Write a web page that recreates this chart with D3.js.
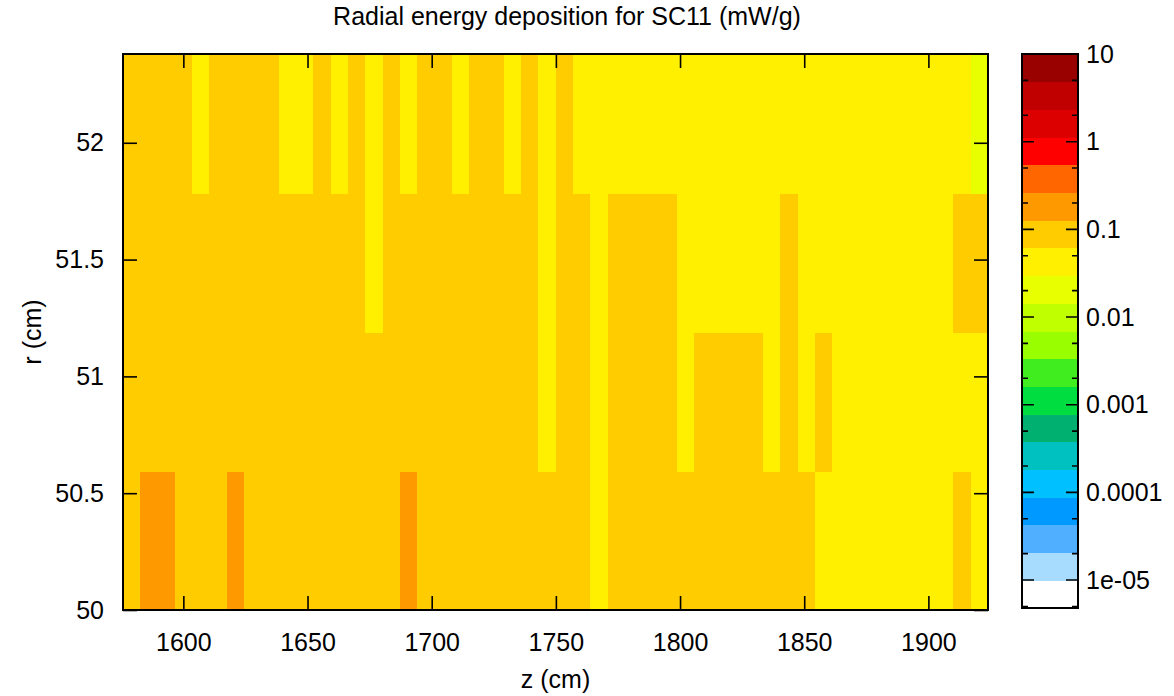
<!DOCTYPE html>
<html>
<head>
<meta charset="utf-8">
<script src="https://cdn.jsdelivr.net/npm/d3@7"></script>
<style>
  body { margin: 0; background: #fff; }
  svg { display: block; font-family: "Liberation Sans", Arial, sans-serif; }
</style>
</head>
<body>
<div id="container"></div>
<script>
// ==================== data ==================== //

// z bin edges (cm), 50 bins
const zEdges = [
  1575.7, 1582.7, 1589.6, 1596.6, 1603.6, 1610.5, 1617.5, 1624.5, 1631.4, 1638.4,
  1645.4, 1652.3, 1659.3, 1666.3, 1673.2, 1680.2, 1687.2, 1694.1, 1701.1, 1708.1,
  1715.0, 1722.0, 1729.0, 1735.9, 1742.9, 1749.9, 1756.8, 1763.8, 1770.8, 1777.7,
  1784.7, 1791.7, 1798.6, 1805.6, 1812.5, 1819.5, 1826.5, 1833.4, 1840.4, 1847.4,
  1854.3, 1861.3, 1868.3, 1875.2, 1882.2, 1889.2, 1896.1, 1903.1, 1910.1, 1917.0,
  1924.0
];

// r bin edges (cm), 4 bins
const rEdges = [50, 50.595, 51.19, 51.785, 52.38];

// energy deposition (mW/g), one array per r bin, bottom to top
const edepR0 = [
  0.105, 0.165, 0.160, 0.104, 0.102, 0.103, 0.155, 0.101, 0.100, 0.099,
  0.098, 0.097, 0.098, 0.096, 0.095, 0.094, 0.152, 0.095, 0.094, 0.093,
  0.092, 0.091, 0.090, 0.089, 0.088, 0.087, 0.086, 0.052, 0.090, 0.089,
  0.088, 0.087, 0.086, 0.085, 0.084, 0.083, 0.082, 0.081, 0.080, 0.079,
  0.054, 0.053, 0.052, 0.051, 0.050, 0.049, 0.050, 0.052, 0.074, 0.051
];
const edepR1 = [
  0.102, 0.104, 0.103, 0.101, 0.099, 0.100, 0.101, 0.098, 0.097, 0.096,
  0.095, 0.096, 0.094, 0.093, 0.092, 0.093, 0.094, 0.091, 0.090, 0.089,
  0.088, 0.087, 0.086, 0.085, 0.054, 0.084, 0.083, 0.053, 0.085, 0.084,
  0.083, 0.082, 0.054, 0.080, 0.081, 0.079, 0.077, 0.053, 0.076, 0.052,
  0.075, 0.053, 0.052, 0.051, 0.050, 0.049, 0.048, 0.050, 0.052, 0.048
];
const edepR2 = [
  0.098, 0.100, 0.097, 0.095, 0.093, 0.094, 0.095, 0.092, 0.091, 0.090,
  0.089, 0.090, 0.088, 0.087, 0.052, 0.087, 0.088, 0.086, 0.085, 0.084,
  0.085, 0.083, 0.082, 0.081, 0.053, 0.080, 0.078, 0.051, 0.081, 0.079,
  0.077, 0.076, 0.052, 0.051, 0.050, 0.049, 0.050, 0.048, 0.074, 0.050,
  0.049, 0.047, 0.046, 0.045, 0.044, 0.045, 0.047, 0.052, 0.075, 0.073
];
const edepR3 = [
  0.090, 0.088, 0.086, 0.084, 0.050, 0.083, 0.085, 0.082, 0.080, 0.052,
  0.051, 0.079, 0.050, 0.078, 0.049, 0.077, 0.051, 0.076, 0.075, 0.050,
  0.074, 0.073, 0.049, 0.072, 0.048, 0.071, 0.052, 0.051, 0.050, 0.049,
  0.048, 0.047, 0.046, 0.046, 0.045, 0.044, 0.043, 0.043, 0.042, 0.041,
  0.040, 0.039, 0.038, 0.038, 0.037, 0.036, 0.035, 0.034, 0.033, 0.024
];
const edepRows = [edepR0, edepR1, edepR2, edepR3];

// colour palette, low to high
const paletteColors = [
  "#ffffff", "#a8dcff", "#50b0ff", "#0099ff", "#00c0ff",
  "#00c0c0", "#00b070", "#00dd40", "#40ee20", "#99ff00",
  "#c0ff00", "#e8ff00", "#fff000", "#ffcc00", "#ff9900",
  "#ff6600", "#ff0000", "#dd0000", "#c00000", "#990000"
];
const cbMin = 4.8e-6;
const cbMax = 10;
const cbMajorTicks = [10, 1, 0.1, 0.01, 0.001, 0.0001, 1e-05];
const cbMajorLabels = ["10", "1", "0.1", "0.01", "0.001", "0.0001", "1e-05"];
const cbMinorTicks = [5, 2, 0.5, 0.2, 0.05, 0.02, 0.005, 0.002, 0.0005, 0.0002, 5e-05, 2e-05, 5e-06];

const xTicks = [1600, 1650, 1700, 1750, 1800, 1850, 1900];
const yTicks = [50, 50.5, 51, 51.5, 52];

const titleText = "Radial energy deposition for SC11 (mW/g)";
const xLabel = "z (cm)";
const yLabel = "r (cm)";

// ==================== layout ==================== //

const width = 1174, height = 696;
const plot = { left: 123, right: 988, top: 54, bottom: 610 };
const cbar = { left: 1022, right: 1078, top: 54, bottom: 608 };
const fontSize = 25;

const svg = d3.select("#container")
  .append("svg")
  .attr("width", width)
  .attr("height", height);

const x = d3.scaleLinear().domain([zEdges[0], zEdges[zEdges.length - 1]]).range([plot.left, plot.right]);
const y = d3.scaleLinear().domain([rEdges[0], rEdges[rEdges.length - 1]]).range([plot.bottom, plot.top]);

const color = d3.scaleQuantize()
  .domain([Math.log10(cbMin), Math.log10(cbMax)])
  .range(paletteColors);

// ==================== heat map ==================== //

const cells = [];
edepRows.forEach((row, ri) => {
  row.forEach((v, zi) => {
    cells.push({ z0: zEdges[zi], z1: zEdges[zi + 1], r0: rEdges[ri], r1: rEdges[ri + 1], v: v });
  });
});

svg.append("g")
  .selectAll("rect")
  .data(cells)
  .join("rect")
  .attr("x", d => x(d.z0))
  .attr("y", d => y(d.r1))
  .attr("width", d => x(d.z1) - x(d.z0) + 0.5)
  .attr("height", d => y(d.r0) - y(d.r1) + 0.5)
  .attr("fill", d => color(Math.log10(d.v)))
  .attr("shape-rendering", "crispEdges");

// ==================== axes ==================== //

function styleAxis(g) {
  g.select(".domain").remove();
  g.selectAll(".tick line").attr("stroke", "#000").attr("stroke-width", 1.6);
  g.selectAll(".tick text")
    .attr("fill", "#000")
    .style("font-size", fontSize + "px")
    .style("font-family", "'Liberation Sans', Arial, sans-serif");
}

svg.append("g")
  .attr("transform", `translate(0,${plot.bottom})`)
  .call(d3.axisBottom(x).tickValues(xTicks).tickFormat(d3.format("d")).tickSizeInner(-14).tickSizeOuter(0).tickPadding(23))
  .call(styleAxis);

svg.append("g")
  .attr("transform", `translate(0,${plot.top})`)
  .call(d3.axisTop(x).tickValues(xTicks).tickFormat("").tickSizeInner(-14).tickSizeOuter(0))
  .call(styleAxis);

svg.append("g")
  .attr("transform", `translate(${plot.left},0)`)
  .call(d3.axisLeft(y).tickValues(yTicks).tickFormat(d3.format("~g")).tickSizeInner(-14).tickSizeOuter(0).tickPadding(19))
  .call(styleAxis);

svg.append("g")
  .attr("transform", `translate(${plot.right},0)`)
  .call(d3.axisRight(y).tickValues(yTicks).tickFormat("").tickSizeInner(-14).tickSizeOuter(0))
  .call(styleAxis);

svg.append("rect")
  .attr("x", plot.left)
  .attr("y", plot.top)
  .attr("width", plot.right - plot.left)
  .attr("height", plot.bottom - plot.top)
  .attr("fill", "none")
  .attr("stroke", "#000")
  .attr("stroke-width", 2);

// ==================== colour box ==================== //

const cy = d3.scaleLog().domain([cbMin, cbMax]).range([cbar.bottom, cbar.top]);
const bandStep = (Math.log10(cbMax) - Math.log10(cbMin)) / paletteColors.length;

svg.append("g")
  .selectAll("rect")
  .data(paletteColors)
  .join("rect")
  .attr("x", cbar.left)
  .attr("width", cbar.right - cbar.left)
  .attr("y", (c, i) => cy(Math.pow(10, Math.log10(cbMin) + (i + 1) * bandStep)))
  .attr("height", (c, i) => cy(Math.pow(10, Math.log10(cbMin) + i * bandStep)) - cy(Math.pow(10, Math.log10(cbMin) + (i + 1) * bandStep)) + 0.5)
  .attr("fill", c => c)
  .attr("shape-rendering", "crispEdges");

const cbTicks = svg.append("g");
[[cbMajorTicks, 12], [cbMinorTicks, 6]].forEach(([vals, len]) => {
  cbTicks.selectAll(null)
    .data(vals)
    .join("path")
    .attr("d", d => `M${cbar.left},${cy(d)}h${len}M${cbar.right},${cy(d)}h${-len}`)
    .attr("stroke", "#000")
    .attr("stroke-width", 1.6);
});

svg.append("g")
  .selectAll("text")
  .data(cbMajorTicks)
  .join("text")
  .attr("x", cbar.right + 8)
  .attr("y", d => cy(d))
  .attr("dy", "0.35em")
  .style("font-size", fontSize + "px")
  .text((d, i) => cbMajorLabels[i]);

svg.append("rect")
  .attr("x", cbar.left)
  .attr("y", cbar.top)
  .attr("width", cbar.right - cbar.left)
  .attr("height", cbar.bottom - cbar.top)
  .attr("fill", "none")
  .attr("stroke", "#000")
  .attr("stroke-width", 2);

// ==================== labels ==================== //

svg.append("text")
  .attr("x", 567)
  .attr("y", 25)
  .attr("text-anchor", "middle")
  .style("font-size", fontSize + "px")
  .text(titleText);

svg.append("text")
  .attr("x", (plot.left + plot.right) / 2)
  .attr("y", 688)
  .attr("text-anchor", "middle")
  .style("font-size", fontSize + "px")
  .text(xLabel);

svg.append("text")
  .attr("transform", `translate(41,${(plot.top + plot.bottom) / 2}) rotate(-90)`)
  .attr("text-anchor", "middle")
  .style("font-size", fontSize + "px")
  .text(yLabel);
</script>
</body>
</html>
